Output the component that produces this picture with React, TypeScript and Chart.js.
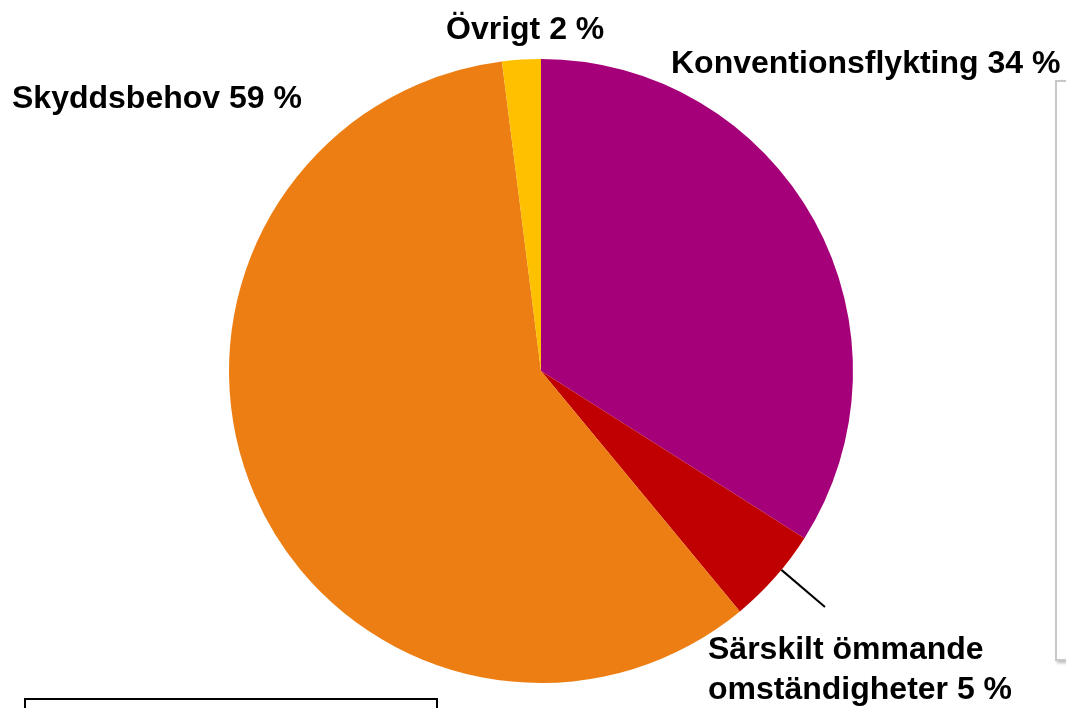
import React, { useEffect, useRef } from "react";
import { Chart, registerables } from "chart.js";

Chart.register(...registerables);

const categories = ["Konventionsflykting", "Särskilt ömmande omständigheter", "Skyddsbehov", "Övrigt"];
const values = [34, 5, 59, 2];
const colors = ["#A5007A", "#C00000", "#EC7E13", "#FFC000"];
const labelLines = [["Konventionsflykting 34 %"], ["Särskilt ömmande", "omständigheter 5 %"], ["Skyddsbehov 59 %"], ["Övrigt 2 %"]];

const labelPlugin = {
  id: "customLabels",
  afterDraw(chart: any) {
    const ctx = chart.ctx;
    const pos = [
      { x: 671, y: 73 },
      { x: 708, y: 659 },
      { x: 12, y: 108 },
      { x: 446, y: 39 },
    ];
    ctx.save();
    ctx.fillStyle = "#000";
    ctx.font = "bold 32px 'Liberation Sans', Arial, sans-serif";
    ctx.textBaseline = "alphabetic";
    ctx.textAlign = "left";
    labelLines.forEach((lines, i) => {
      const p = pos[i];
      lines.forEach((t, j) => ctx.fillText(t, p.x, p.y + j * 40));
    });
    // leader line for small slice
    const arc = chart.getDatasetMeta(0).data[1];
    const a = arc.startAngle + 0.4 * (arc.endAngle - arc.startAngle);
    const r = arc.outerRadius;
    ctx.strokeStyle = "#000";
    ctx.lineWidth = 2;
    ctx.beginPath();
    ctx.moveTo(arc.x + Math.cos(a) * r, arc.y + Math.sin(a) * r);
    ctx.lineTo(825, 607);
    ctx.stroke();
    ctx.restore();
  },
};

export default function App() {
  const ref = useRef<HTMLCanvasElement>(null);
  useEffect(() => {
    document.body.style.margin = "0";
    const chart = new Chart(ref.current!, {
      type: "pie",
      data: {
        labels: categories,
        datasets: [{ data: values, backgroundColor: colors, borderWidth: 0 }],
      },
      options: {
        animation: false,
        responsive: false,
        layout: { padding: { left: 229, right: 213, top: 59, bottom: 25 } },
        plugins: { legend: { display: false }, tooltip: { enabled: false } },
      },
      plugins: [labelPlugin],
    });
    return () => chart.destroy();
  }, []);
  return (
    <div style={{ position: "relative", width: 1066, height: 708, overflow: "hidden", background: "#fff" }}>
      <div style={{ position: "absolute", left: 1055, top: 80, width: 20, height: 577, border: "2px solid #c8c8c8", boxShadow: "2px 2px 3px #bbb" }} />
      <div style={{ position: "absolute", left: 24, top: 698, width: 410, height: 20, border: "2px solid #000" }} />
      <canvas ref={ref} width={1066} height={708} style={{ position: "absolute", left: 0, top: 0 }} />
    </div>
  );
}
